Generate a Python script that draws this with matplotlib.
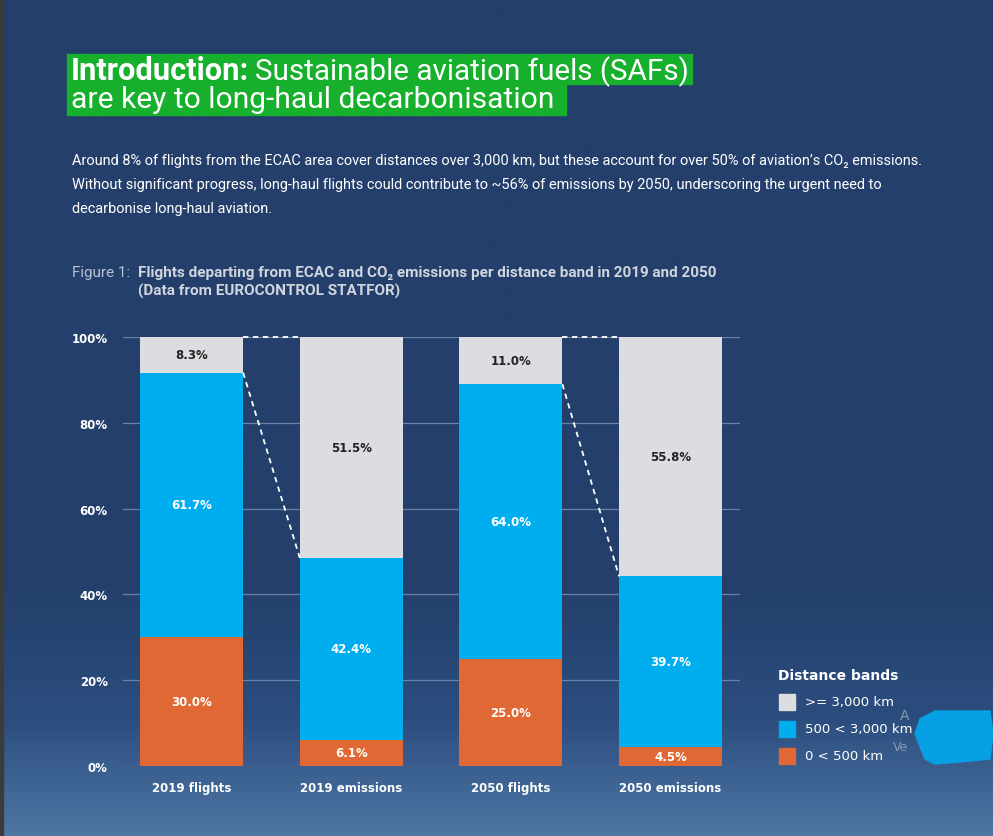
import numpy as np
import matplotlib.pyplot as plt
from matplotlib.patches import Rectangle, Polygon
from matplotlib.colors import LinearSegmentedColormap

categories = ["2019 flights", "2019 emissions", "2050 flights", "2050 emissions"]
short = [30.0, 6.1, 25.0, 4.5]     # 0 < 500 km
medium = [61.7, 42.4, 64.0, 39.7]  # 500 < 3,000 km
long_ = [8.3, 51.5, 11.0, 55.8]    # >= 3,000 km
band_labels = [">= 3,000 km", "500 < 3,000 km", "0 < 500 km"]
yticks = [0, 20, 40, 60, 80, 100]

BG = "#243f6b"
GREY = "#dcdde0"
BLUE = "#00aeef"
ORANGE = "#e06834"
GREEN = "#16b02c"
FONT = ["Roboto", "DejaVu Sans"]

fig = plt.figure(figsize=(9.93, 8.37), dpi=100)
W, H = 993, 837


def fx(px):
    return px / W


def fy(py):
    return 1 - py / H


def fit(t, target_px):
    # shrink/grow a text so its width matches the reference
    fig.canvas.draw()
    w = t.get_window_extent().width
    t.set_fontsize(t.get_fontsize() * target_px / w)
    return t


# background with soft gradient toward the bottom
bg = fig.add_axes([0, 0, 1, 1], zorder=-10)
cmap = LinearSegmentedColormap.from_list(
    "bg", [(0, BG), (0.70, BG), (0.86, "#2b4d7e"), (1.0, "#4d76a3")])
grad = np.linspace(0, 1, 400).reshape(-1, 1)
bg.imshow(grad, aspect="auto", cmap=cmap, extent=[0, 1, 0, 1], origin="upper")
bg.add_patch(Rectangle((0, 0), 0.003, 1, color="#3b3b3b"))
bg.set_xlim(0, 1)
bg.set_ylim(0, 1)
bg.axis("off")

# title with green highlight
fig.patches.append(Rectangle((fx(67), fy(85)), fx(692 - 67), (85 - 55) / H,
                             transform=fig.transFigure, color=GREEN, zorder=1))
fig.patches.append(Rectangle((fx(67), fy(116)), fx(566 - 67), (116 - 85) / H,
                             transform=fig.transFigure, color=GREEN, zorder=1))
t1 = fig.text(fx(71), fy(80), "Introduction:", fontsize=20, fontweight="bold",
              color="white", family=FONT, va="baseline")
fit(t1, 178)
t1b = fig.text(fx(255), fy(80), "Sustainable aviation fuels (SAFs)", fontsize=20,
               color="white", family=FONT, va="baseline")
fit(t1b, 433)
t2 = fig.text(fx(71), fy(108), "are key to long-haul decarbonisation", fontsize=20,
              color="white", family=FONT, va="baseline")
fit(t2, 482)

body = ["Around 8% of flights from the ECAC area cover distances over 3,000 km, but these account for over 50% of aviation\u2019s CO\u2082 emissions.",
        "Without significant progress, long-haul flights could contribute to ~56% of emissions by 2050, underscoring the urgent need to",
        "decarbonise long-haul aviation."]
tb = fig.text(fx(72), fy(165), body[0], fontsize=10, color="white", family=FONT,
              va="baseline")
fit(tb, 849)
for k, line in enumerate(body[1:], start=1):
    fig.text(fx(72), fy(165 + 24 * k), line, fontsize=tb.get_fontsize(),
             color="white", family=FONT, va="baseline")

tf = fig.text(fx(72), fy(277), "Figure 1:", fontsize=10, color="#b8c2d2",
              family=FONT, va="baseline")
fit(tf, 58)
tc = fig.text(fx(138), fy(277), "Flights departing from ECAC and CO\u2082 emissions per distance band in 2019 and 2050",
              fontsize=9.6, color="#d0d5de", fontweight="bold", family=FONT,
              va="baseline")
fit(tc, 585)
fig.text(fx(138), fy(296), "(Data from EUROCONTROL STATFOR)", fontsize=tc.get_fontsize(),
         color="#d0d5de", fontweight="bold", family=FONT, va="baseline")

# chart
ax = fig.add_axes([fx(123), (H - 767) / H, fx(740 - 123), (767 - 338) / H])
ax.set_facecolor("none")
x = np.arange(len(categories))
width = 0.645
short_a = np.array(short)
medium_a = np.array(medium)
long_a = np.array(long_)
ax.bar(x, short_a, width, color=ORANGE, zorder=3)
ax.bar(x, medium_a, width, bottom=short_a, color=BLUE, zorder=3)
ax.bar(x, long_a, width, bottom=short_a + medium_a, color=GREY, zorder=3)

for i in range(len(categories)):
    ax.text(x[i], short_a[i] / 2, f"{short_a[i]:.1f}%", ha="center", va="center",
            color="white", fontweight="bold", fontsize=8.5, zorder=4)
    ax.text(x[i], short_a[i] + medium_a[i] / 2, f"{medium_a[i]:.1f}%", ha="center",
            va="center", color="white", fontweight="bold", fontsize=8.5, zorder=4)
    ax.text(x[i], short_a[i] + medium_a[i] + long_a[i] / 2, f"{long_a[i]:.1f}%",
            ha="center", va="center", color="#222222", fontweight="bold",
            fontsize=8.5, zorder=4)

# dashed connectors from flights bars to emissions bars
for i in (0, 2):
    x0 = x[i] + width / 2
    x1 = x[i + 1] - width / 2
    ax.plot([x0, x1], [100, 100], ls=(0, (3, 2.5)), color="white", lw=1.3,
            zorder=5, clip_on=False)
    ax.plot([x0, x1], [short_a[i] + medium_a[i], short_a[i + 1] + medium_a[i + 1]],
            ls=(0, (3, 2.5)), color="white", lw=1.3, zorder=5, clip_on=False)

ax.set_xlim(-0.43, 3.435)
ax.set_ylim(0, 100)
ax.set_yticks(yticks)
ax.set_yticklabels([f"{v}%" for v in yticks], fontweight="bold", color="white",
                   fontsize=8.5)
ax.set_xticks(x)
ax.set_xticklabels(categories, fontweight="bold", color="white", fontsize=8.5)
ax.tick_params(axis="y", length=0, pad=11)
ax.tick_params(axis="x", length=0, pad=11)
ax.yaxis.grid(True, color="#6a82a8", lw=0.9, zorder=0)
for s in ax.spines.values():
    s.set_visible(False)

# legend
fig.text(fx(778), fy(680), "Distance bands", fontsize=10, fontweight="bold",
         color="white", va="baseline")
for j, (lab, col) in enumerate(zip(band_labels, [GREY, BLUE, ORANGE])):
    yc = 703 + j * 27
    fig.patches.append(Rectangle((fx(779), fy(yc + 8)), fx(16), 16 / H,
                                 transform=fig.transFigure, color=col))
    fig.text(fx(805), fy(yc), lab, fontsize=9.5, color="white", va="center")

# obscured watermark blob at the right edge
fig.text(fx(900), fy(716), "A", fontsize=10, color="#8a9ab2", va="center")
fig.text(fx(893), fy(748), "Ve", fontsize=9, color="#8a9ab2", va="center")
blob = [(935, 712), (990, 712), (993, 735), (990, 760), (960, 763), (935, 765),
        (925, 760), (915, 735), (920, 720)]
fig.patches.append(Polygon([(fx(a), fy(b)) for a, b in blob], closed=True,
                           transform=fig.transFigure, color="#08a0e4", zorder=6))

fig.savefig("out.png", dpi=100, facecolor=BG)
